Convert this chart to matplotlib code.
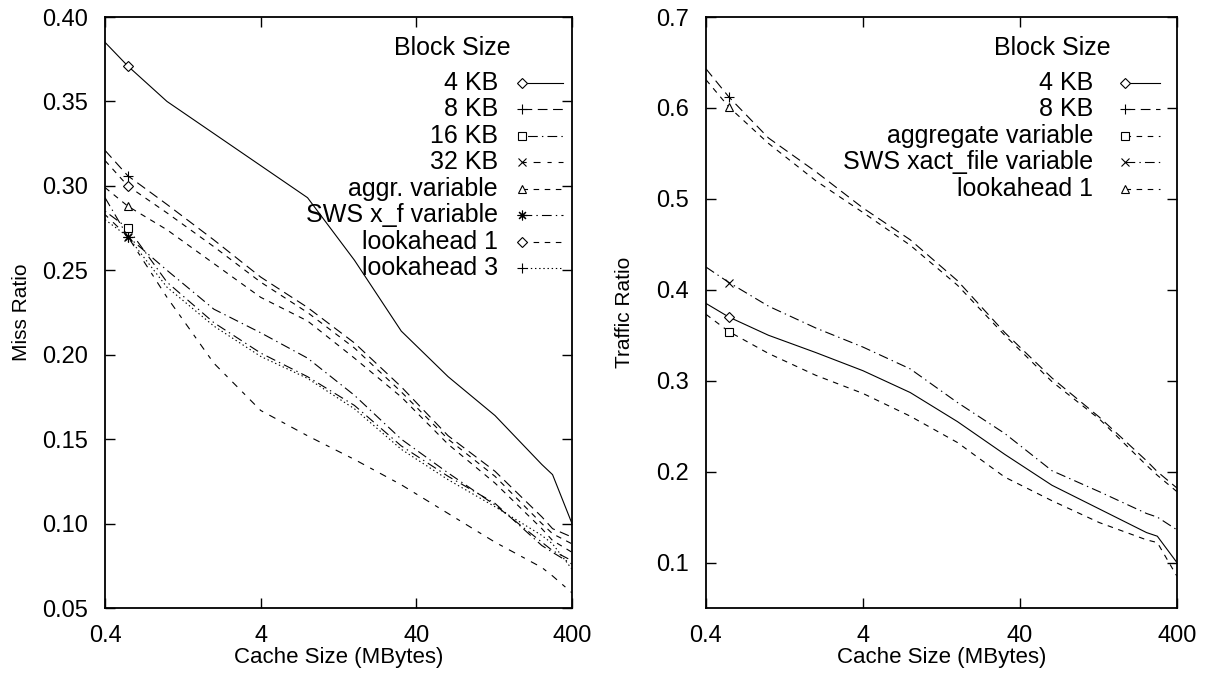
import numpy as np
import matplotlib
matplotlib.use("Agg")
import matplotlib.pyplot as plt
from matplotlib.lines import Line2D

plt.rcParams['font.family'] = ['Liberation Sans', 'DejaVu Sans']
plt.rcParams['lines.scale_dashes'] = False

# cache sizes (MBytes), shared by all curves
cache_mb = [0.4, 0.56, 1, 2, 4, 8, 16, 32, 64, 128, 256, 300, 400]

# ---- miss ratio (left panel)
miss_labels = ['4 KB', '8 KB', '16 KB', '32 KB', 'aggr. variable',
               'SWS x_f variable', 'lookahead 1', 'lookahead 3']
miss_4kb = [0.385, 0.371, 0.350, 0.331, 0.312, 0.293, 0.256, 0.214, 0.187, 0.164, 0.135, 0.129, 0.100]
miss_8kb = [0.321, 0.306, 0.289, 0.268, 0.246, 0.228, 0.207, 0.181, 0.152, 0.131, 0.104, 0.097, 0.092]
miss_16kb = [0.285, 0.275, 0.243, 0.219, 0.201, 0.187, 0.170, 0.146, 0.128, 0.112, 0.087, 0.083, 0.076]
miss_32kb = [0.283, 0.270, 0.234, 0.195, 0.167, 0.152, 0.138, 0.123, 0.106, 0.089, 0.074, 0.069, 0.059]
miss_aggr = [0.299, 0.288, 0.274, 0.254, 0.234, 0.220, 0.198, 0.175, 0.147, 0.124, 0.097, 0.090, 0.083]
miss_sws = [0.293, 0.270, 0.250, 0.227, 0.213, 0.198, 0.176, 0.150, 0.130, 0.111, 0.089, 0.084, 0.078]
miss_la1 = [0.315, 0.300, 0.284, 0.264, 0.243, 0.225, 0.204, 0.178, 0.150, 0.128, 0.100, 0.094, 0.088]
miss_la3 = [0.280, 0.270, 0.240, 0.217, 0.199, 0.186, 0.168, 0.144, 0.126, 0.110, 0.093, 0.088, 0.073]

# ---- traffic ratio (right panel)
traffic_labels = ['4 KB', '8 KB', 'aggregate variable', 'SWS xact_file variable', 'lookahead 1']
traffic_4kb = [0.385, 0.370, 0.350, 0.331, 0.311, 0.287, 0.255, 0.219, 0.185, 0.159, 0.133, 0.129, 0.100]
traffic_8kb = [0.643, 0.612, 0.567, 0.530, 0.490, 0.455, 0.410, 0.353, 0.303, 0.260, 0.212, 0.200, 0.182]
traffic_aggr = [0.373, 0.354, 0.330, 0.306, 0.286, 0.261, 0.232, 0.194, 0.168, 0.144, 0.125, 0.122, 0.085]
traffic_sws = [0.425, 0.408, 0.382, 0.358, 0.337, 0.313, 0.276, 0.242, 0.201, 0.178, 0.154, 0.150, 0.136]
traffic_la1 = [0.631, 0.601, 0.561, 0.520, 0.485, 0.449, 0.405, 0.350, 0.299, 0.258, 0.207, 0.196, 0.178]

# line styles (gnuplot-like)
SOLID = '-'
LONG = (0, (7, 4))
SHORT = (0, (4, 4))
DASHDOT_A = (0, (1, 3, 7, 3))
DASHES_B = (0, (3, 5, 5, 5))
DASHDOT_B = (0, (7, 3, 1, 3))
DOTTED = (0, (1, 2))
STAR = (8, 2, 0)

miss_series = [
    (miss_4kb, SOLID, 'D'),
    (miss_8kb, LONG, '+'),
    (miss_16kb, DASHDOT_A, 's'),
    (miss_32kb, DASHES_B, 'x'),
    (miss_aggr, SHORT, '^'),
    (miss_sws, DASHDOT_B, STAR),
    (miss_la1, SHORT, 'D'),
    (miss_la3, DOTTED, '+'),
]
traffic_series = [
    (traffic_4kb, SOLID, 'D'),
    (traffic_8kb, LONG, '+'),
    (traffic_aggr, SHORT, 's'),
    (traffic_sws, DASHDOT_B, 'x'),
    (traffic_la1, SHORT, '^'),
]

LW = 0.8


def msize(mk):
    return {'D': 5, '+': 7, 's': 6, 'x': 6, '^': 6}.get(mk, 7) if isinstance(mk, str) else 7


def draw_panel(ax, series, labels, ylim, yticks, yfmt, ylabel, ylab_x,
               title_x, lab_x, mk_x, end_x):
    for vals, ls, mk in series:
        ax.plot(cache_mb, vals, color='black', lw=LW, linestyle=ls,
                marker=mk, markevery=[1], ms=msize(mk), mfc='white', mec='black', mew=0.8)
    ax.set_xscale('log')
    ax.set_xlim(0.4, 400)
    ax.set_ylim(*ylim)
    ax.set_xticks([0.4, 4, 40, 400])
    ax.set_xticklabels(['0.4', '4', '40', '400'])
    ax.xaxis.set_minor_locator(matplotlib.ticker.NullLocator())
    ax.set_yticks(yticks)
    ax.set_yticklabels([yfmt % v for v in yticks])
    ax.tick_params(direction='in', length=7, width=1, top=True, right=True,
                   labelsize=17)
    ax.tick_params(axis='x', pad=12)
    ax.tick_params(axis='y', pad=12)
    for sp in ax.spines.values():
        sp.set_linewidth(1.3)
    ax.set_xlabel('Cache Size (MBytes)', fontsize=16, labelpad=0)
    ax.set_ylabel(ylabel, fontsize=15)
    ax.yaxis.set_label_coords(ylab_x, 0.5)

    # gnuplot-style key: right aligned text, marker then line sample
    ax.text(title_x, 0.948, 'Block Size', transform=ax.transAxes,
            ha='center', va='center', fontsize=18)
    y0, step = 0.889, 0.0449
    for i, ((vals, ls, mk), lab) in enumerate(zip(series, labels)):
        y = y0 - i * step
        ax.text(lab_x, y, lab, transform=ax.transAxes, ha='right', va='center', fontsize=18)
        ax.add_line(Line2D([mk_x, end_x], [y, y], transform=ax.transAxes, color='black',
                           lw=LW, linestyle=ls))
        ax.add_line(Line2D([mk_x], [y], transform=ax.transAxes, marker=mk, ms=msize(mk),
                           mfc='white', mec='black', mew=0.8, linestyle='none'))


fig = plt.figure(figsize=(12.06, 6.78), dpi=100)
ax1 = fig.add_axes([0.0871, 0.1032, 0.3872, 0.8717])
ax2 = fig.add_axes([0.5854, 0.1032, 0.3905, 0.8717])

draw_panel(ax1, miss_series, miss_labels, (0.05, 0.40),
           [0.05, 0.10, 0.15, 0.20, 0.25, 0.30, 0.35, 0.40], '%.2f', 'Miss Ratio',
           -0.158, 0.743, 0.8415, 0.893, 0.981)
draw_panel(ax2, traffic_series, traffic_labels, (0.05, 0.70),
           [0.1, 0.2, 0.3, 0.4, 0.5, 0.6, 0.7], '%.1f', 'Traffic Ratio',
           -0.153, 0.735, 0.8217, 0.8896, 0.964)

fig.savefig('out.png', dpi=100)
